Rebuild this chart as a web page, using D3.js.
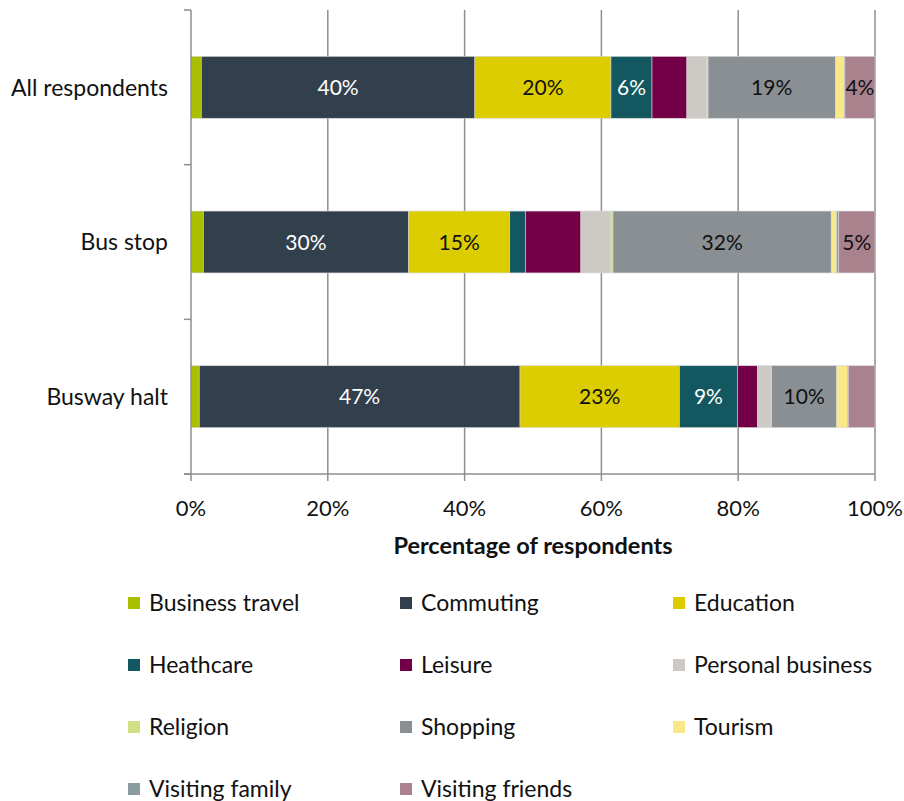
<!DOCTYPE html>
<html>
<head>
<meta charset="utf-8">
<script src="https://cdn.jsdelivr.net/npm/d3@7"></script>
<style>
  html, body { margin: 0; padding: 0; background: #fff; }
  svg { display: block; font-family: "Lato", "Open Sans", sans-serif; }
</style>
</head>
<body>
<svg id="chart" width="904" height="801"></svg>
<script>
// Journey purpose by where the respondent was surveyed (share of respondents, %)
const categories = ["All respondents", "Bus stop", "Busway halt"];
const purposes = ["Business travel", "Commuting", "Education", "Heathcare", "Leisure",
  "Personal business", "Religion", "Shopping", "Tourism", "Visiting family", "Visiting friends"];
const allRespondents = [1.5, 40.0, 19.9, 6.0, 5.1, 2.9, 0.2, 18.6, 1.3, 0.1, 4.4];
const busStop        = [1.8, 30.0, 14.8, 2.3, 8.1, 4.3, 0.4, 31.9, 0.8, 0.3, 5.3];
const buswayHalt     = [1.2, 46.9, 23.3, 8.5, 2.9, 2.0, 0.1, 9.5, 1.6, 0.1, 3.9];
const colors = ["#a8c000", "#323f4d", "#dccd00", "#135860", "#730046",
  "#cdcac5", "#d2e083", "#8a8f93", "#f8e889", "#8a9ca0", "#a9828e"];
const xTicks = [0, 20, 40, 60, 80, 100];
const labelledPurposes = ["Commuting", "Education", "Heathcare", "Shopping", "Visiting friends"];
const lightLabelPurposes = ["Commuting", "Heathcare"];

const seriesValues = [allRespondents, busStop, buswayHalt];
const rows = categories.map((c, i) => {
  const r = { category: c };
  purposes.forEach((p, j) => { r[p] = seriesValues[i][j]; });
  return r;
});

const svg = d3.select("#chart");
const margin = { left: 191, right: 29, top: 10, bottom: 327 };
const W = 904, H = 801;
const plotW = W - margin.left - margin.right;
const plotH = H - margin.top - margin.bottom;

const x = d3.scaleLinear().domain([0, 100]).range([0, plotW]);
const y = d3.scaleBand().domain(categories).range([0, plotH]).padding(0);
const barH = y.bandwidth() * 0.4;

const g = svg.append("g").attr("transform", `translate(${margin.left},${margin.top})`);
const axisColor = "#8e8e8e";

// vertical gridlines
g.append("g").selectAll("line").data(xTicks.slice(1)).join("line")
  .attr("x1", d => x(d)).attr("x2", d => x(d))
  .attr("y1", 0).attr("y2", plotH)
  .attr("stroke", axisColor).attr("stroke-width", 1.5);

// stacked bars
const stack = d3.stack().keys(purposes);
const layers = stack(rows);
const layerG = g.append("g").selectAll("g").data(layers).join("g")
  .attr("fill", (d, i) => colors[i]);
layerG.selectAll("rect").data(d => d.map(v => Object.assign(v, { key: d.key }))).join("rect")
  .attr("x", d => x(d[0]))
  .attr("width", d => Math.max(0, x(d[1]) - x(d[0])))
  .attr("y", d => y(d.data.category) + (y.bandwidth() - barH) / 2)
  .attr("height", barH)
  .attr("stroke", "#d4d4d4").attr("stroke-width", 0.6);

// value labels
layers.forEach(layer => {
  if (!labelledPurposes.includes(layer.key)) return;
  layer.forEach(d => {
    const v = d[1] - d[0];
    if (v < 4) return;
    g.append("text")
      .attr("x", x((d[0] + d[1]) / 2))
      .attr("y", y(d.data.category) + y.bandwidth() / 2)
      .attr("dy", "0.36em")
      .attr("text-anchor", "middle")
      .attr("font-size", 21)
      .attr("fill", lightLabelPurposes.includes(layer.key) ? "#ffffff" : "#111111")
      .text(Math.round(v) + "%");
  });
});

// y axis
const yAxisG = g.append("g");
yAxisG.append("line").attr("x1", 0).attr("x2", 0).attr("y1", 0).attr("y2", plotH)
  .attr("stroke", axisColor).attr("stroke-width", 1.5);
const yBounds = categories.map(c => y(c)).concat([plotH]);
yAxisG.selectAll("line.tick").data(yBounds).join("line").attr("class", "tick")
  .attr("x1", -7).attr("x2", 0).attr("y1", d => d).attr("y2", d => d)
  .attr("stroke", axisColor).attr("stroke-width", 1.5);
yAxisG.selectAll("text").data(categories).join("text")
  .attr("x", -23).attr("y", d => y(d) + y.bandwidth() / 2)
  .attr("dy", "0.36em").attr("text-anchor", "end")
  .attr("font-size", 23).attr("fill", "#111")
  .text(d => d);

// x axis
const xAxisG = g.append("g").attr("transform", `translate(0,${plotH})`);
xAxisG.append("line").attr("x1", -7).attr("x2", plotW).attr("y1", 0).attr("y2", 0)
  .attr("stroke", axisColor).attr("stroke-width", 1.5);
xAxisG.selectAll("line.tick").data(xTicks).join("line").attr("class", "tick")
  .attr("x1", d => x(d)).attr("x2", d => x(d)).attr("y1", 0).attr("y2", 7)
  .attr("stroke", axisColor).attr("stroke-width", 1.5);
xAxisG.selectAll("text").data(xTicks).join("text")
  .attr("x", d => x(d)).attr("y", 34).attr("dy", "0.36em")
  .attr("text-anchor", "middle").attr("font-size", 22).attr("fill", "#111")
  .text(d => d + "%");
xAxisG.append("text")
  .attr("x", plotW / 2).attr("y", 72).attr("dy", "0.36em")
  .attr("text-anchor", "middle").attr("font-size", 23.5).attr("font-weight", "bold")
  .attr("fill", "#111").text("Percentage of respondents");

// legend: three columns
const legendCols = [128, 400, 673];
const legendRows = [603, 665, 727, 789];
const legend = svg.append("g").selectAll("g").data(purposes).join("g")
  .attr("transform", (d, i) => `translate(${legendCols[i % 3]},${legendRows[Math.floor(i / 3)]})`);
legend.append("rect").attr("x", 0).attr("y", -6).attr("width", 12).attr("height", 12)
  .attr("fill", (d, i) => colors[i]);
legend.append("text").attr("x", 21).attr("y", 0).attr("dy", "0.36em")
  .attr("font-size", 23).attr("fill", "#111").text(d => d);
</script>
</body>
</html>
